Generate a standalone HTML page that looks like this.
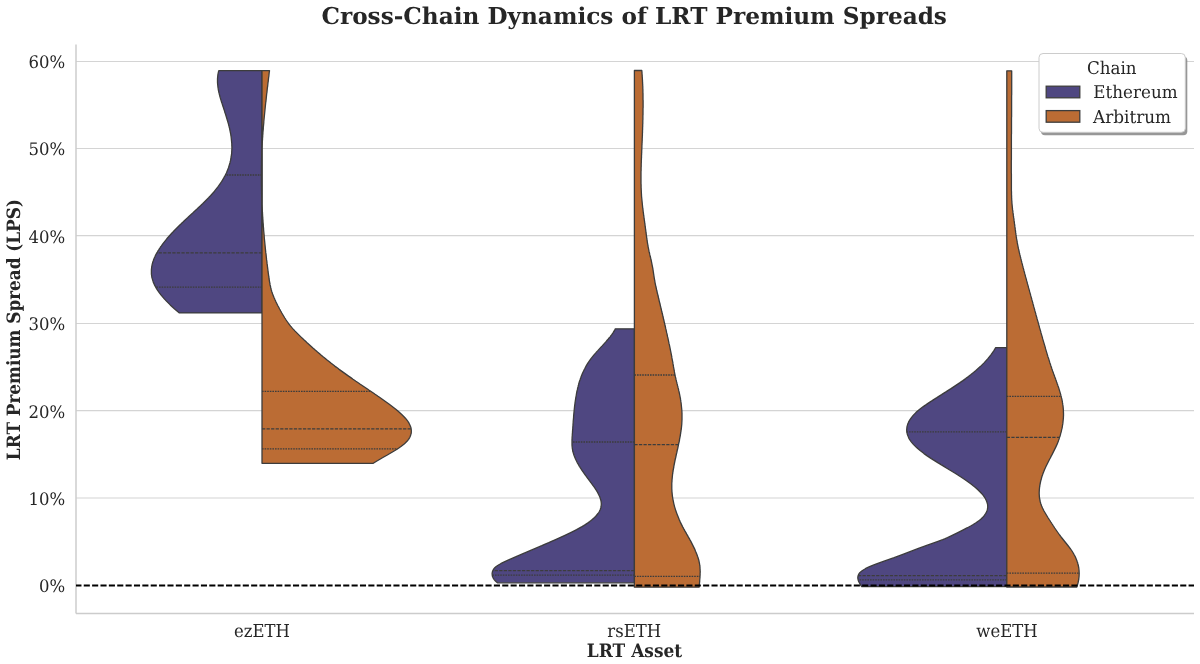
<!DOCTYPE html>
<html><head><meta charset="utf-8"><title>Cross-Chain Dynamics of LRT Premium Spreads</title>
<style>html,body{margin:0;padding:0;background:#fff;} svg{display:block;} text{font-family:'DejaVu Serif', 'Liberation Serif', serif;fill:#262626;text-rendering:geometricPrecision;}</style>
</head><body>
<svg width="1200" height="664" viewBox="0 0 1200 664">
<rect width="1200" height="664" fill="#ffffff"/>
<line x1="76.0" y1="498" x2="1194.0" y2="498" stroke="#d4d4d4" stroke-width="1.15"/>
<line x1="76.0" y1="410.6" x2="1194.0" y2="410.6" stroke="#d4d4d4" stroke-width="1.15"/>
<line x1="76.0" y1="323.5" x2="1194.0" y2="323.5" stroke="#d4d4d4" stroke-width="1.15"/>
<line x1="76.0" y1="235.6" x2="1194.0" y2="235.6" stroke="#d4d4d4" stroke-width="1.15"/>
<line x1="76.0" y1="148.5" x2="1194.0" y2="148.5" stroke="#d4d4d4" stroke-width="1.15"/>
<line x1="76.0" y1="61.5" x2="1194.0" y2="61.5" stroke="#d4d4d4" stroke-width="1.15"/>
<line x1="76.0" y1="44.5" x2="76.0" y2="613.5" stroke="#cccccc" stroke-width="1.5"/>
<line x1="76.0" y1="613.5" x2="1194.0" y2="613.5" stroke="#cccccc" stroke-width="1.5"/>
<path d="M262,70.6 L218.8,70.6 L218.5,71.6 L218.3,72.6 L218.1,73.6 L217.9,74.6 L217.8,75.6 L217.7,76.6 L217.6,77.6 L217.5,78.6 L217.5,79.6 L217.5,80.6 L217.5,81.6 L217.5,82.6 L217.6,83.6 L217.7,84.6 L217.8,85.6 L217.9,86.6 L218,87.6 L218.2,88.6 L218.3,89.6 L218.5,90.6 L218.7,91.6 L218.9,92.6 L219.2,93.6 L219.4,94.6 L219.7,95.6 L219.9,96.6 L220.2,97.6 L220.5,98.6 L220.8,99.6 L221.1,100.6 L221.4,101.6 L221.7,102.6 L222.1,103.6 L222.4,104.6 L222.7,105.6 L223,106.6 L223.4,107.6 L223.7,108.6 L224,109.6 L224.4,110.6 L224.7,111.7 L225,112.7 L225.4,113.7 L225.7,114.7 L226,115.7 L226.3,116.7 L226.6,117.7 L226.9,118.7 L227.2,119.7 L227.5,120.7 L227.8,121.7 L228.1,122.7 L228.4,123.7 L228.6,124.7 L228.9,125.7 L229.1,126.7 L229.4,127.7 L229.6,128.7 L229.8,129.7 L230,130.7 L230.2,131.7 L230.4,132.7 L230.6,133.7 L230.8,134.7 L230.9,135.7 L231.1,136.7 L231.2,137.7 L231.3,138.7 L231.4,139.7 L231.5,140.7 L231.6,141.7 L231.7,142.7 L231.8,143.7 L231.8,144.7 L231.8,145.7 L231.9,146.7 L231.9,147.7 L231.9,148.7 L231.8,149.7 L231.8,150.7 L231.7,151.7 L231.7,152.7 L231.6,153.7 L231.5,154.7 L231.3,155.7 L231.2,156.7 L231,157.7 L230.9,158.7 L230.7,159.7 L230.5,160.7 L230.2,161.7 L230,162.7 L229.7,163.7 L229.4,164.7 L229.1,165.7 L228.8,166.7 L228.5,167.7 L228.1,168.7 L227.7,169.7 L227.3,170.7 L226.9,171.7 L226.5,172.7 L226,173.7 L225.5,174.7 L225,175.7 L224.5,176.7 L223.9,177.7 L223.4,178.7 L222.8,179.7 L222.2,180.7 L221.6,181.7 L220.9,182.7 L220.2,183.7 L219.5,184.7 L218.8,185.7 L218.1,186.7 L217.3,187.7 L216.5,188.7 L215.7,189.7 L214.9,190.7 L214.1,191.8 L213.2,192.8 L212.3,193.8 L211.4,194.8 L210.5,195.8 L209.5,196.8 L208.6,197.8 L207.6,198.8 L206.6,199.8 L205.6,200.8 L204.6,201.8 L203.6,202.8 L202.6,203.8 L201.5,204.8 L200.5,205.8 L199.4,206.8 L198.3,207.8 L197.3,208.8 L196.2,209.8 L195.1,210.8 L194,211.8 L193,212.8 L191.9,213.8 L190.8,214.8 L189.7,215.8 L188.6,216.8 L187.6,217.8 L186.5,218.8 L185.4,219.8 L184.3,220.8 L183.3,221.8 L182.2,222.8 L181.2,223.8 L180.1,224.8 L179.1,225.8 L178.1,226.8 L177.1,227.8 L176.1,228.8 L175.1,229.8 L174.1,230.8 L173.2,231.8 L172.2,232.8 L171.3,233.8 L170.4,234.8 L169.5,235.8 L168.6,236.8 L167.7,237.8 L166.8,238.8 L166,239.8 L165.2,240.8 L164.4,241.8 L163.6,242.8 L162.8,243.8 L162.1,244.8 L161.4,245.8 L160.6,246.8 L160,247.8 L159.3,248.8 L158.7,249.8 L158,250.8 L157.5,251.8 L156.9,252.8 L156.3,253.8 L155.8,254.8 L155.3,255.8 L154.9,256.8 L154.4,257.8 L154,258.8 L153.6,259.8 L153.3,260.8 L152.9,261.8 L152.6,262.8 L152.4,263.8 L152.1,264.8 L151.9,265.8 L151.7,266.8 L151.6,267.8 L151.5,268.8 L151.4,269.8 L151.4,270.8 L151.4,271.8 L151.4,272.9 L151.4,273.9 L151.5,274.9 L151.7,275.9 L151.8,276.9 L152,277.9 L152.3,278.9 L152.6,279.9 L152.9,280.9 L153.2,281.9 L153.6,282.9 L154.1,283.9 L154.5,284.9 L155,285.9 L155.6,286.9 L156.1,287.9 L156.7,288.9 L157.3,289.9 L158,290.9 L158.7,291.9 L159.4,292.9 L160.2,293.9 L160.9,294.9 L161.8,295.9 L162.6,296.9 L163.5,297.9 L164.3,298.9 L165.3,299.9 L166.2,300.9 L167.2,301.9 L168.2,302.9 L169.2,303.9 L170.2,304.9 L171.3,305.9 L172.4,306.9 L173.5,307.9 L174.6,308.9 L175.8,309.9 L177,310.9 L178.2,311.9 L179.4,312.9 L262,312.9 Z" fill="#4f4781" stroke="#3c3c3c" stroke-width="1.3" stroke-linejoin="round"/>
<line x1="262" y1="175" x2="225.4" y2="175" stroke="#3c3c3c" stroke-width="1.3" stroke-dasharray="1.6 1"/>
<line x1="262" y1="252.8" x2="156.9" y2="252.8" stroke="#3c3c3c" stroke-width="1.3" stroke-dasharray="3.25 1.3"/>
<line x1="262" y1="287.1" x2="155.7" y2="287.1" stroke="#3c3c3c" stroke-width="1.3" stroke-dasharray="1.6 1"/>
<path d="M262,70.6 L269.5,70.6 L269.4,71.6 L269.2,72.6 L269.1,73.6 L269,74.6 L268.9,75.6 L268.8,76.6 L268.6,77.6 L268.5,78.6 L268.4,79.6 L268.3,80.6 L268.2,81.6 L268,82.6 L267.9,83.6 L267.8,84.6 L267.7,85.6 L267.6,86.6 L267.4,87.6 L267.3,88.6 L267.2,89.6 L267.1,90.6 L267,91.6 L266.9,92.6 L266.7,93.6 L266.6,94.6 L266.5,95.6 L266.4,96.6 L266.3,97.6 L266.2,98.7 L266.1,99.7 L266,100.7 L265.9,101.7 L265.7,102.7 L265.6,103.7 L265.5,104.7 L265.4,105.7 L265.3,106.7 L265.2,107.7 L265.1,108.7 L265,109.7 L264.9,110.7 L264.8,111.7 L264.7,112.7 L264.6,113.7 L264.5,114.7 L264.4,115.7 L264.3,116.7 L264.2,117.7 L264.1,118.7 L264,119.7 L263.9,120.7 L263.8,121.7 L263.8,122.7 L263.7,123.7 L263.6,124.7 L263.5,125.7 L263.4,126.7 L263.3,127.7 L263.3,128.7 L263.2,129.7 L263.1,130.7 L263,131.7 L262.9,132.7 L262.9,133.7 L262.8,134.7 L262.7,135.7 L262.7,136.7 L262.6,137.7 L262.5,138.7 L262.5,139.7 L262.4,140.7 L262.3,141.7 L262.3,142.7 L262.2,143.7 L262.2,144.7 L262.1,145.7 L262.1,146.7 L262,147.7 L262,148.7 L261.9,149.7 L261.9,150.7 L261.8,151.7 L261.8,152.7 L261.8,153.7 L261.7,154.8 L261.7,155.8 L261.7,156.8 L261.6,157.8 L261.6,158.8 L261.6,159.8 L261.5,160.8 L261.5,161.8 L261.5,162.8 L261.5,163.8 L261.5,164.8 L261.4,165.8 L261.4,166.8 L261.4,167.8 L261.4,168.8 L261.4,169.8 L261.4,170.8 L261.4,171.8 L261.4,172.8 L261.4,173.8 L261.4,174.8 L261.4,175.8 L261.4,176.8 L261.4,177.8 L261.4,178.8 L261.4,179.8 L261.4,180.8 L261.4,181.8 L261.4,182.8 L261.4,183.8 L261.4,184.8 L261.4,185.8 L261.5,186.8 L261.5,187.8 L261.5,188.8 L261.5,189.8 L261.6,190.8 L261.6,191.8 L261.6,192.8 L261.6,193.8 L261.7,194.8 L261.7,195.8 L261.7,196.8 L261.8,197.8 L261.8,198.8 L261.8,199.8 L261.9,200.8 L261.9,201.8 L262,202.8 L262,203.8 L262,204.8 L262.1,205.8 L262.1,206.8 L262.2,207.8 L262.2,208.8 L262.3,209.8 L262.3,210.9 L262.4,211.9 L262.5,212.9 L262.5,213.9 L262.6,214.9 L262.6,215.9 L262.7,216.9 L262.8,217.9 L262.8,218.9 L262.9,219.9 L263,220.9 L263,221.9 L263.1,222.9 L263.2,223.9 L263.3,224.9 L263.3,225.9 L263.4,226.9 L263.5,227.9 L263.6,228.9 L263.6,229.9 L263.7,230.9 L263.8,231.9 L263.9,232.9 L264,233.9 L264.1,234.9 L264.2,235.9 L264.2,236.9 L264.3,237.9 L264.4,238.9 L264.5,239.9 L264.6,240.9 L264.7,241.9 L264.8,242.9 L264.9,243.9 L265,244.9 L265.1,245.9 L265.2,246.9 L265.3,247.9 L265.4,248.9 L265.5,249.9 L265.6,250.9 L265.7,251.9 L265.8,252.9 L266,253.9 L266.1,254.9 L266.2,255.9 L266.3,256.9 L266.4,257.9 L266.5,258.9 L266.6,259.9 L266.8,260.9 L266.9,261.9 L267,262.9 L267.1,263.9 L267.3,264.9 L267.4,265.9 L267.5,267 L267.6,268 L267.8,269 L267.9,270 L268,271 L268.1,272 L268.3,273 L268.4,274 L268.5,275 L268.7,276 L268.8,277 L269,278 L269.1,279 L269.3,280 L269.4,281 L269.6,282 L269.8,283 L269.9,284 L270.1,285 L270.4,286 L270.6,287 L270.8,288 L271.1,289 L271.3,290 L271.6,291 L271.9,292 L272.3,293 L272.6,294 L273,295 L273.4,296 L273.8,297 L274.2,298 L274.7,299 L275.1,300 L275.6,301 L276,302 L276.5,303 L277,304 L277.5,305 L278,306 L278.6,307 L279.1,308 L279.6,309 L280.2,310 L280.7,311 L281.3,312 L281.8,313 L282.4,314 L283,315 L283.6,316 L284.2,317 L284.8,318 L285.5,319 L286.1,320 L286.8,321 L287.5,322 L288.3,323.1 L289,324.1 L289.8,325.1 L290.6,326.1 L291.5,327.1 L292.3,328.1 L293.2,329.1 L294.2,330.1 L295.1,331.1 L296.1,332.1 L297.1,333.1 L298.1,334.1 L299.1,335.1 L300.1,336.1 L301.1,337.1 L302.1,338.1 L303.2,339.1 L304.2,340.1 L305.3,341.1 L306.4,342.1 L307.4,343.1 L308.5,344.1 L309.6,345.1 L310.7,346.1 L311.8,347.1 L312.9,348.1 L314.1,349.1 L315.2,350.1 L316.4,351.1 L317.5,352.1 L318.7,353.1 L319.9,354.1 L321,355.1 L322.2,356.1 L323.4,357.1 L324.7,358.1 L325.9,359.1 L327.1,360.1 L328.4,361.1 L329.7,362.1 L330.9,363.1 L332.2,364.1 L333.5,365.1 L334.8,366.1 L336.2,367.1 L337.5,368.1 L338.8,369.1 L340.2,370.1 L341.6,371.1 L343,372.1 L344.4,373.1 L345.8,374.1 L347.2,375.1 L348.6,376.1 L350.1,377.1 L351.5,378.1 L353,379.2 L354.5,380.2 L355.9,381.2 L357.4,382.2 L358.9,383.2 L360.3,384.2 L361.8,385.2 L363.3,386.2 L364.8,387.2 L366.3,388.2 L367.8,389.2 L369.2,390.2 L370.7,391.2 L372.2,392.2 L373.7,393.2 L375.1,394.2 L376.6,395.2 L378,396.2 L379.5,397.2 L380.9,398.2 L382.3,399.2 L383.7,400.2 L385.1,401.2 L386.5,402.2 L387.9,403.2 L389.3,404.2 L390.6,405.2 L391.9,406.2 L393.2,407.2 L394.5,408.2 L395.8,409.2 L397,410.2 L398.2,411.2 L399.3,412.2 L400.4,413.2 L401.5,414.2 L402.5,415.2 L403.5,416.2 L404.5,417.2 L405.4,418.2 L406.2,419.2 L407,420.2 L407.7,421.2 L408.4,422.2 L409,423.2 L409.5,424.2 L410,425.2 L410.4,426.2 L410.8,427.2 L411,428.2 L411.2,429.2 L411.3,430.2 L411.3,431.2 L411.3,432.2 L411.2,433.2 L410.9,434.2 L410.6,435.3 L410.3,436.3 L409.8,437.3 L409.2,438.3 L408.6,439.3 L407.8,440.3 L407,441.3 L406,442.3 L405,443.3 L403.9,444.3 L402.6,445.3 L401.3,446.3 L399.9,447.3 L398.5,448.3 L396.9,449.3 L395.4,450.3 L393.7,451.3 L392,452.3 L390.3,453.3 L388.6,454.3 L386.9,455.3 L385.1,456.3 L383.3,457.3 L381.6,458.3 L379.9,459.3 L378.2,460.3 L376.5,461.3 L374.9,462.3 L373.3,463.3 L262,463.3 Z" fill="#bb6c34" stroke="#3c3c3c" stroke-width="1.3" stroke-linejoin="round"/>
<line x1="262" y1="391.3" x2="370.9" y2="391.3" stroke="#3c3c3c" stroke-width="1.3" stroke-dasharray="1.6 1"/>
<line x1="262" y1="428.9" x2="411.1" y2="428.9" stroke="#3c3c3c" stroke-width="1.3" stroke-dasharray="3.25 1.3"/>
<line x1="262" y1="448.8" x2="397.7" y2="448.8" stroke="#3c3c3c" stroke-width="1.3" stroke-dasharray="1.6 1"/>
<path d="M634.4,328.8 L615.3,328.8 L614.8,329.8 L614.2,330.8 L613.6,331.8 L613,332.8 L612.3,333.8 L611.6,334.8 L610.8,335.8 L610.1,336.8 L609.3,337.8 L608.4,338.8 L607.6,339.8 L606.7,340.8 L605.8,341.9 L604.9,342.9 L604,343.9 L603.1,344.9 L602.2,345.9 L601.2,346.9 L600.3,347.9 L599.4,348.9 L598.5,349.9 L597.6,350.9 L596.6,351.9 L595.8,352.9 L594.9,353.9 L594,354.9 L593.2,355.9 L592.4,356.9 L591.6,357.9 L590.8,358.9 L590.1,359.9 L589.4,360.9 L588.7,361.9 L588,362.9 L587.4,363.9 L586.8,364.9 L586.2,365.9 L585.6,367 L585.1,368 L584.6,369 L584,370 L583.6,371 L583.1,372 L582.6,373 L582.2,374 L581.8,375 L581.4,376 L581,377 L580.7,378 L580.3,379 L580,380 L579.6,381 L579.3,382 L579,383 L578.7,384 L578.5,385 L578.2,386 L578,387 L577.7,388 L577.5,389 L577.3,390 L577,391 L576.8,392 L576.6,393.1 L576.4,394.1 L576.3,395.1 L576.1,396.1 L575.9,397.1 L575.7,398.1 L575.6,399.1 L575.4,400.1 L575.3,401.1 L575.1,402.1 L575,403.1 L574.9,404.1 L574.7,405.1 L574.6,406.1 L574.5,407.1 L574.4,408.1 L574.3,409.1 L574.2,410.1 L574.1,411.1 L574,412.1 L573.9,413.1 L573.8,414.1 L573.7,415.1 L573.6,416.1 L573.6,417.1 L573.5,418.2 L573.4,419.2 L573.3,420.2 L573.2,421.2 L573.2,422.2 L573.1,423.2 L573,424.2 L573,425.2 L572.9,426.2 L572.8,427.2 L572.8,428.2 L572.7,429.2 L572.6,430.2 L572.5,431.2 L572.5,432.2 L572.4,433.2 L572.3,434.2 L572.3,435.2 L572.2,436.2 L572.1,437.2 L572.1,438.2 L572,439.2 L572,440.2 L572,441.2 L572,442.2 L572,443.3 L572,444.3 L572,445.3 L572.1,446.3 L572.2,447.3 L572.3,448.3 L572.5,449.3 L572.6,450.3 L572.8,451.3 L573.1,452.3 L573.4,453.3 L573.7,454.3 L574,455.3 L574.4,456.3 L574.8,457.3 L575.2,458.3 L575.6,459.3 L576.1,460.3 L576.6,461.3 L577.1,462.3 L577.7,463.3 L578.3,464.3 L578.8,465.3 L579.4,466.3 L580.1,467.3 L580.7,468.3 L581.4,469.4 L582,470.4 L582.7,471.4 L583.4,472.4 L584.1,473.4 L584.8,474.4 L585.5,475.4 L586.3,476.4 L587,477.4 L587.7,478.4 L588.5,479.4 L589.2,480.4 L590,481.4 L590.7,482.4 L591.5,483.4 L592.2,484.4 L592.9,485.4 L593.7,486.4 L594.4,487.4 L595.1,488.4 L595.7,489.4 L596.4,490.4 L597,491.4 L597.6,492.4 L598.1,493.4 L598.6,494.5 L599.1,495.5 L599.6,496.5 L600,497.5 L600.3,498.5 L600.6,499.5 L600.9,500.5 L601.1,501.5 L601.2,502.5 L601.3,503.5 L601.3,504.5 L601.2,505.5 L601.1,506.5 L600.9,507.5 L600.6,508.5 L600.3,509.5 L599.8,510.5 L599.3,511.5 L598.7,512.5 L598,513.5 L597.2,514.5 L596.4,515.5 L595.5,516.5 L594.5,517.5 L593.4,518.5 L592.2,519.6 L591,520.6 L589.7,521.6 L588.3,522.6 L586.8,523.6 L585.3,524.6 L583.7,525.6 L582,526.6 L580.2,527.6 L578.4,528.6 L576.6,529.6 L574.7,530.6 L572.7,531.6 L570.7,532.6 L568.6,533.6 L566.5,534.6 L564.4,535.6 L562.2,536.6 L560,537.6 L557.8,538.6 L555.6,539.6 L553.3,540.6 L551,541.6 L548.8,542.6 L546.4,543.6 L544.1,544.6 L541.8,545.7 L539.5,546.7 L537.1,547.7 L534.8,548.7 L532.4,549.7 L530.1,550.7 L527.7,551.7 L525.4,552.7 L523,553.7 L520.7,554.7 L518.4,555.7 L516.1,556.7 L513.8,557.7 L511.5,558.7 L509.2,559.7 L507,560.7 L504.8,561.7 L502.7,562.7 L500.7,563.7 L498.9,564.7 L497.3,565.7 L495.9,566.7 L494.8,567.7 L494,568.7 L493.3,569.7 L492.8,570.8 L492.4,571.8 L492.2,572.8 L492.1,573.8 L492.2,574.8 L492.3,575.8 L492.6,576.8 L493.1,577.8 L493.7,578.8 L494.4,579.8 L495.2,580.8 L496.2,581.8 L497.4,582.8 L634.4,582.8 Z" fill="#4f4781" stroke="#3c3c3c" stroke-width="1.3" stroke-linejoin="round"/>
<line x1="634.4" y1="442" x2="572" y2="442" stroke="#3c3c3c" stroke-width="1.3" stroke-dasharray="1.6 1"/>
<line x1="634.4" y1="570.6" x2="492.9" y2="570.6" stroke="#3c3c3c" stroke-width="1.3" stroke-dasharray="3.25 1.3"/>
<line x1="634.4" y1="575.2" x2="492.2" y2="575.2" stroke="#3c3c3c" stroke-width="1.3" stroke-dasharray="1.6 1"/>
<path d="M634.4,70.5 L641.8,70.5 L641.9,71.5 L642,72.5 L642,73.5 L642.1,74.5 L642.2,75.5 L642.2,76.5 L642.3,77.5 L642.4,78.5 L642.4,79.5 L642.5,80.5 L642.5,81.5 L642.6,82.5 L642.6,83.5 L642.7,84.5 L642.7,85.5 L642.8,86.5 L642.8,87.5 L642.8,88.5 L642.9,89.5 L642.9,90.5 L642.9,91.5 L642.9,92.5 L643,93.5 L643,94.5 L643,95.5 L643,96.5 L643,97.5 L643,98.5 L643,99.5 L643.1,100.5 L643.1,101.5 L643.1,102.5 L643.1,103.5 L643.1,104.5 L643.1,105.5 L643.1,106.5 L643.1,107.6 L643,108.6 L643,109.6 L643,110.6 L643,111.6 L643,112.6 L643,113.6 L643,114.6 L642.9,115.6 L642.9,116.6 L642.9,117.6 L642.9,118.6 L642.9,119.6 L642.8,120.6 L642.8,121.6 L642.8,122.6 L642.8,123.6 L642.7,124.6 L642.7,125.6 L642.7,126.6 L642.6,127.6 L642.6,128.6 L642.6,129.6 L642.5,130.6 L642.5,131.6 L642.5,132.6 L642.4,133.6 L642.4,134.6 L642.4,135.6 L642.3,136.6 L642.3,137.6 L642.2,138.6 L642.2,139.6 L642.2,140.6 L642.1,141.6 L642.1,142.6 L642,143.6 L642,144.6 L641.9,145.6 L641.9,146.6 L641.9,147.6 L641.8,148.6 L641.8,149.6 L641.7,150.6 L641.7,151.6 L641.7,152.6 L641.6,153.6 L641.6,154.6 L641.5,155.6 L641.5,156.6 L641.5,157.6 L641.4,158.6 L641.4,159.6 L641.3,160.6 L641.3,161.6 L641.3,162.6 L641.2,163.6 L641.2,164.6 L641.2,165.6 L641.2,166.6 L641.1,167.6 L641.1,168.6 L641.1,169.6 L641.1,170.6 L641,171.6 L641,172.6 L641,173.6 L641,174.6 L641,175.6 L641,176.6 L641,177.6 L641,178.6 L641,179.6 L641,180.6 L641,181.7 L641,182.7 L641,183.7 L641.1,184.7 L641.1,185.7 L641.1,186.7 L641.1,187.7 L641.2,188.7 L641.2,189.7 L641.3,190.7 L641.3,191.7 L641.4,192.7 L641.4,193.7 L641.5,194.7 L641.5,195.7 L641.6,196.7 L641.7,197.7 L641.8,198.7 L641.9,199.7 L642,200.7 L642.1,201.7 L642.2,202.7 L642.3,203.7 L642.4,204.7 L642.5,205.7 L642.6,206.7 L642.7,207.7 L642.8,208.7 L643,209.7 L643.1,210.7 L643.2,211.7 L643.3,212.7 L643.5,213.7 L643.6,214.7 L643.7,215.7 L643.9,216.7 L644,217.7 L644.1,218.7 L644.3,219.7 L644.4,220.7 L644.6,221.7 L644.7,222.7 L644.8,223.7 L645,224.7 L645.1,225.7 L645.2,226.7 L645.4,227.7 L645.5,228.7 L645.6,229.7 L645.8,230.7 L645.9,231.7 L646,232.7 L646.2,233.7 L646.3,234.7 L646.4,235.7 L646.6,236.7 L646.7,237.7 L646.8,238.7 L647,239.7 L647.1,240.7 L647.3,241.7 L647.4,242.7 L647.6,243.7 L647.8,244.7 L647.9,245.7 L648.1,246.7 L648.3,247.7 L648.5,248.7 L648.7,249.7 L648.9,250.7 L649.1,251.7 L649.4,252.7 L649.6,253.7 L649.8,254.7 L650.1,255.8 L650.3,256.8 L650.6,257.8 L650.8,258.8 L651,259.8 L651.3,260.8 L651.5,261.8 L651.7,262.8 L651.9,263.8 L652.1,264.8 L652.3,265.8 L652.5,266.8 L652.7,267.8 L652.9,268.8 L653,269.8 L653.2,270.8 L653.3,271.8 L653.5,272.8 L653.6,273.8 L653.8,274.8 L653.9,275.8 L654.1,276.8 L654.2,277.8 L654.4,278.8 L654.6,279.8 L654.8,280.8 L654.9,281.8 L655.1,282.8 L655.3,283.8 L655.5,284.8 L655.7,285.8 L655.9,286.8 L656.2,287.8 L656.4,288.8 L656.6,289.8 L656.8,290.8 L657.1,291.8 L657.3,292.8 L657.5,293.8 L657.8,294.8 L658,295.8 L658.3,296.8 L658.5,297.8 L658.7,298.8 L659,299.8 L659.2,300.8 L659.4,301.8 L659.7,302.8 L659.9,303.8 L660.2,304.8 L660.4,305.8 L660.6,306.8 L660.9,307.8 L661.1,308.8 L661.4,309.8 L661.6,310.8 L661.8,311.8 L662.1,312.8 L662.3,313.8 L662.6,314.8 L662.8,315.8 L663,316.8 L663.3,317.8 L663.5,318.8 L663.7,319.8 L664,320.8 L664.2,321.8 L664.4,322.8 L664.7,323.8 L664.9,324.8 L665.1,325.8 L665.4,326.8 L665.6,327.8 L665.8,328.9 L666.1,329.9 L666.3,330.9 L666.5,331.9 L666.7,332.9 L667,333.9 L667.2,334.9 L667.4,335.9 L667.6,336.9 L667.9,337.9 L668.1,338.9 L668.3,339.9 L668.5,340.9 L668.7,341.9 L668.9,342.9 L669.1,343.9 L669.4,344.9 L669.6,345.9 L669.8,346.9 L670,347.9 L670.2,348.9 L670.4,349.9 L670.6,350.9 L670.8,351.9 L671,352.9 L671.2,353.9 L671.4,354.9 L671.6,355.9 L671.8,356.9 L671.9,357.9 L672.1,358.9 L672.3,359.9 L672.5,360.9 L672.7,361.9 L672.9,362.9 L673,363.9 L673.2,364.9 L673.4,365.9 L673.5,366.9 L673.7,367.9 L673.9,368.9 L674.1,369.9 L674.3,370.9 L674.4,371.9 L674.6,372.9 L674.8,373.9 L675,374.9 L675.2,375.9 L675.4,376.9 L675.7,377.9 L675.9,378.9 L676.1,379.9 L676.4,380.9 L676.6,381.9 L676.9,382.9 L677.1,383.9 L677.4,384.9 L677.6,385.9 L677.9,386.9 L678.1,387.9 L678.4,388.9 L678.6,389.9 L678.8,390.9 L679.1,391.9 L679.3,392.9 L679.5,393.9 L679.7,394.9 L679.9,395.9 L680.1,396.9 L680.3,397.9 L680.5,398.9 L680.6,399.9 L680.8,400.9 L680.9,401.9 L681.1,403 L681.2,404 L681.3,405 L681.4,406 L681.5,407 L681.6,408 L681.7,409 L681.8,410 L681.9,411 L681.9,412 L682,413 L682,414 L682,415 L682,416 L682,417 L682,418 L682,419 L682,420 L681.9,421 L681.9,422 L681.8,423 L681.8,424 L681.7,425 L681.6,426 L681.5,427 L681.4,428 L681.3,429 L681.1,430 L681,431 L680.8,432 L680.7,433 L680.5,434 L680.4,435 L680.2,436 L680,437 L679.8,438 L679.6,439 L679.5,440 L679.3,441 L679.1,442 L678.8,443 L678.6,444 L678.4,445 L678.2,446 L678,447 L677.8,448 L677.6,449 L677.3,450 L677.1,451 L676.9,452 L676.7,453 L676.4,454 L676.2,455 L676,456 L675.8,457 L675.6,458 L675.3,459 L675.1,460 L674.9,461 L674.7,462 L674.5,463 L674.3,464 L674.1,465 L673.9,466 L673.8,467 L673.6,468 L673.4,469 L673.2,470 L673.1,471 L672.9,472 L672.8,473 L672.6,474 L672.5,475 L672.4,476 L672.3,477.1 L672.2,478.1 L672.1,479.1 L672,480.1 L672,481.1 L671.9,482.1 L671.8,483.1 L671.8,484.1 L671.8,485.1 L671.8,486.1 L671.8,487.1 L671.8,488.1 L671.8,489.1 L671.9,490.1 L671.9,491.1 L672,492.1 L672.1,493.1 L672.2,494.1 L672.3,495.1 L672.4,496.1 L672.6,497.1 L672.7,498.1 L672.9,499.1 L673.1,500.1 L673.3,501.1 L673.5,502.1 L673.7,503.1 L673.9,504.1 L674.2,505.1 L674.4,506.1 L674.7,507.1 L675,508.1 L675.3,509.1 L675.6,510.1 L675.9,511.1 L676.3,512.1 L676.6,513.1 L677,514.1 L677.4,515.1 L677.8,516.1 L678.2,517.1 L678.6,518.1 L679,519.1 L679.4,520.1 L679.9,521.1 L680.3,522.1 L680.8,523.1 L681.3,524.1 L681.8,525.1 L682.3,526.1 L682.8,527.1 L683.4,528.1 L683.9,529.1 L684.5,530.1 L685,531.1 L685.6,532.1 L686.2,533.1 L686.7,534.1 L687.3,535.1 L687.9,536.1 L688.4,537.1 L689,538.1 L689.6,539.1 L690.1,540.1 L690.7,541.1 L691.2,542.1 L691.7,543.1 L692.2,544.1 L692.7,545.1 L693.2,546.1 L693.7,547.1 L694.2,548.1 L694.7,549.1 L695.1,550.1 L695.5,551.2 L696,552.2 L696.4,553.2 L696.8,554.2 L697.2,555.2 L697.5,556.2 L697.9,557.2 L698.2,558.2 L698.5,559.2 L698.8,560.2 L699,561.2 L699.2,562.2 L699.4,563.2 L699.6,564.2 L699.7,565.2 L699.9,566.2 L700,567.2 L700,568.2 L700.1,569.2 L700.1,570.2 L700.2,571.2 L700.2,572.2 L700.1,573.2 L700.1,574.2 L700.1,575.2 L700,576.2 L700,577.2 L699.9,578.2 L699.8,579.2 L699.7,580.2 L699.7,581.2 L699.6,582.2 L699.5,583.2 L699.4,584.2 L699.3,585.2 L699.2,586.2 L699.1,587.2 L634.4,587.2 Z" fill="#bb6c34" stroke="#3c3c3c" stroke-width="1.3" stroke-linejoin="round"/>
<line x1="634.4" y1="375" x2="675" y2="375" stroke="#3c3c3c" stroke-width="1.3" stroke-dasharray="1.6 1"/>
<line x1="634.4" y1="444.6" x2="678.5" y2="444.6" stroke="#3c3c3c" stroke-width="1.3" stroke-dasharray="3.25 1.3"/>
<line x1="634.4" y1="576.3" x2="700" y2="576.3" stroke="#3c3c3c" stroke-width="1.3" stroke-dasharray="1.6 1"/>
<path d="M1006.8,347.6 L995.7,347.6 L995.1,348.6 L994.5,349.6 L993.9,350.6 L993.2,351.6 L992.5,352.6 L991.8,353.6 L991.1,354.6 L990.3,355.6 L989.5,356.6 L988.7,357.6 L987.9,358.6 L987,359.6 L986.1,360.6 L985.2,361.6 L984.3,362.6 L983.3,363.6 L982.3,364.6 L981.3,365.6 L980.3,366.6 L979.2,367.6 L978.1,368.6 L977,369.6 L975.9,370.6 L974.7,371.6 L973.5,372.6 L972.2,373.6 L971,374.6 L969.7,375.6 L968.4,376.6 L967,377.6 L965.7,378.6 L964.3,379.6 L962.9,380.6 L961.4,381.6 L960,382.6 L958.5,383.6 L957,384.6 L955.5,385.6 L954,386.6 L952.5,387.6 L951,388.6 L949.4,389.6 L947.8,390.6 L946.3,391.6 L944.7,392.6 L943.1,393.6 L941.6,394.6 L940,395.6 L938.4,396.6 L936.9,397.6 L935.3,398.6 L933.7,399.6 L932.2,400.6 L930.6,401.6 L929.1,402.6 L927.6,403.6 L926.2,404.6 L924.7,405.6 L923.3,406.6 L922,407.6 L920.7,408.6 L919.4,409.6 L918.2,410.6 L917,411.6 L915.9,412.6 L914.9,413.6 L913.9,414.6 L913,415.6 L912.2,416.6 L911.4,417.6 L910.7,418.6 L910,419.6 L909.4,420.6 L908.8,421.6 L908.4,422.6 L907.9,423.6 L907.6,424.6 L907.3,425.6 L907,426.6 L906.9,427.6 L906.8,428.6 L906.7,429.6 L906.7,430.6 L906.8,431.6 L906.9,432.6 L907.2,433.6 L907.4,434.6 L907.8,435.6 L908.2,436.6 L908.6,437.6 L909.1,438.6 L909.7,439.6 L910.4,440.6 L911.1,441.6 L911.9,442.6 L912.7,443.6 L913.6,444.6 L914.6,445.6 L915.6,446.6 L916.6,447.6 L917.7,448.6 L918.9,449.6 L920.1,450.6 L921.4,451.6 L922.7,452.6 L924,453.6 L925.4,454.6 L926.8,455.6 L928.3,456.6 L929.8,457.6 L931.3,458.6 L932.9,459.6 L934.5,460.6 L936.1,461.6 L937.7,462.6 L939.4,463.6 L941,464.6 L942.7,465.6 L944.3,466.6 L946,467.7 L947.7,468.7 L949.3,469.7 L951,470.7 L952.6,471.7 L954.3,472.7 L955.9,473.7 L957.5,474.7 L959,475.7 L960.6,476.7 L962.1,477.7 L963.6,478.7 L965.1,479.7 L966.5,480.7 L967.9,481.7 L969.3,482.7 L970.7,483.7 L972,484.7 L973.2,485.7 L974.5,486.7 L975.7,487.7 L976.8,488.7 L977.9,489.7 L978.9,490.7 L979.9,491.7 L980.9,492.7 L981.8,493.7 L982.6,494.7 L983.4,495.7 L984.1,496.7 L984.8,497.7 L985.4,498.7 L985.9,499.7 L986.4,500.7 L986.8,501.7 L987.1,502.7 L987.4,503.7 L987.6,504.7 L987.7,505.7 L987.7,506.7 L987.7,507.7 L987.5,508.7 L987.3,509.7 L987,510.7 L986.6,511.7 L986.2,512.7 L985.6,513.7 L984.9,514.7 L984.2,515.7 L983.3,516.7 L982.3,517.7 L981.3,518.7 L980.1,519.7 L978.8,520.7 L977.4,521.7 L976,522.7 L974.4,523.7 L972.8,524.7 L971.1,525.7 L969.3,526.7 L967.5,527.7 L965.6,528.7 L963.7,529.7 L961.8,530.7 L959.8,531.7 L957.8,532.7 L955.8,533.7 L953.7,534.7 L951.7,535.7 L949.6,536.7 L947.5,537.7 L945.2,538.7 L942.7,539.7 L940,540.7 L937.3,541.7 L934.5,542.7 L931.7,543.7 L928.8,544.7 L926,545.7 L923.3,546.7 L920.5,547.7 L917.8,548.7 L915.2,549.7 L912.6,550.7 L910,551.7 L907.4,552.7 L904.8,553.7 L902.2,554.7 L899.5,555.7 L896.8,556.7 L894.1,557.7 L891.2,558.7 L888.4,559.7 L885.5,560.7 L882.7,561.7 L879.9,562.7 L877.2,563.7 L874.5,564.7 L872,565.7 L869.6,566.7 L867.4,567.7 L865.4,568.7 L863.7,569.7 L862.1,570.7 L860.9,571.7 L859.8,572.7 L859.1,573.7 L858.5,574.7 L858.1,575.7 L857.9,576.7 L857.8,577.7 L857.9,578.7 L858.1,579.7 L858.4,580.7 L858.8,581.7 L859.3,582.7 L859.9,583.7 L860.4,584.7 L861,585.7 L861.7,586.7 L1006.8,586.7 Z" fill="#4f4781" stroke="#3c3c3c" stroke-width="1.3" stroke-linejoin="round"/>
<line x1="1006.8" y1="431.9" x2="906.8" y2="431.9" stroke="#3c3c3c" stroke-width="1.3" stroke-dasharray="1.6 1"/>
<line x1="1006.8" y1="575.7" x2="858.1" y2="575.7" stroke="#3c3c3c" stroke-width="1.3" stroke-dasharray="3.25 1.3"/>
<line x1="1006.8" y1="579.8" x2="858.1" y2="579.8" stroke="#3c3c3c" stroke-width="1.3" stroke-dasharray="1.6 1"/>
<path d="M1006.8,70.8 L1011.7,70.8 L1011.7,71.8 L1011.7,72.8 L1011.7,73.8 L1011.7,74.8 L1011.7,75.8 L1011.7,76.8 L1011.7,77.8 L1011.7,78.8 L1011.7,79.8 L1011.7,80.8 L1011.7,81.8 L1011.7,82.8 L1011.7,83.8 L1011.7,84.8 L1011.7,85.8 L1011.7,86.8 L1011.7,87.8 L1011.7,88.8 L1011.7,89.8 L1011.7,90.8 L1011.7,91.8 L1011.7,92.8 L1011.7,93.8 L1011.7,94.8 L1011.6,95.8 L1011.6,96.8 L1011.6,97.8 L1011.6,98.8 L1011.6,99.8 L1011.6,100.8 L1011.6,101.8 L1011.6,102.8 L1011.6,103.8 L1011.6,104.8 L1011.6,105.8 L1011.6,106.8 L1011.6,107.8 L1011.6,108.8 L1011.6,109.8 L1011.6,110.8 L1011.6,111.8 L1011.6,112.8 L1011.6,113.8 L1011.6,114.8 L1011.6,115.8 L1011.6,116.8 L1011.5,117.8 L1011.5,118.8 L1011.5,119.8 L1011.5,120.8 L1011.5,121.8 L1011.5,122.8 L1011.5,123.8 L1011.5,124.8 L1011.5,125.8 L1011.5,126.8 L1011.5,127.8 L1011.5,128.8 L1011.5,129.8 L1011.5,130.8 L1011.5,131.8 L1011.5,132.8 L1011.5,133.8 L1011.4,134.8 L1011.4,135.8 L1011.4,136.8 L1011.4,137.8 L1011.4,138.8 L1011.4,139.8 L1011.4,140.8 L1011.4,141.8 L1011.4,142.8 L1011.4,143.8 L1011.4,144.8 L1011.4,145.8 L1011.4,146.8 L1011.4,147.8 L1011.4,148.8 L1011.4,149.8 L1011.4,150.8 L1011.4,151.8 L1011.4,152.8 L1011.4,153.8 L1011.4,154.8 L1011.4,155.8 L1011.4,156.8 L1011.4,157.8 L1011.4,158.8 L1011.4,159.8 L1011.3,160.8 L1011.3,161.8 L1011.3,162.8 L1011.3,163.8 L1011.3,164.8 L1011.3,165.8 L1011.3,166.8 L1011.3,167.8 L1011.3,168.8 L1011.3,169.8 L1011.3,170.8 L1011.3,171.8 L1011.3,172.8 L1011.4,173.8 L1011.4,174.8 L1011.4,175.8 L1011.4,176.8 L1011.4,177.8 L1011.4,178.8 L1011.4,179.8 L1011.4,180.8 L1011.4,181.8 L1011.4,182.8 L1011.4,183.8 L1011.4,184.8 L1011.4,185.8 L1011.4,186.8 L1011.4,187.8 L1011.4,188.8 L1011.4,189.8 L1011.4,190.8 L1011.5,191.8 L1011.5,192.8 L1011.5,193.8 L1011.5,194.8 L1011.6,195.8 L1011.6,196.8 L1011.6,197.8 L1011.7,198.8 L1011.7,199.9 L1011.8,200.9 L1011.9,201.9 L1011.9,202.9 L1012,203.9 L1012.1,204.9 L1012.2,205.9 L1012.3,206.9 L1012.4,207.9 L1012.5,208.9 L1012.6,209.9 L1012.8,210.9 L1012.9,211.9 L1013,212.9 L1013.2,213.9 L1013.3,214.9 L1013.4,215.9 L1013.6,216.9 L1013.7,217.9 L1013.9,218.9 L1014,219.9 L1014.1,220.9 L1014.3,221.9 L1014.4,222.9 L1014.5,223.9 L1014.7,224.9 L1014.8,225.9 L1014.9,226.9 L1015.1,227.9 L1015.2,228.9 L1015.3,229.9 L1015.5,230.9 L1015.6,231.9 L1015.7,232.9 L1015.9,233.9 L1016,234.9 L1016.2,235.9 L1016.3,236.9 L1016.5,237.9 L1016.6,238.9 L1016.8,239.9 L1017,240.9 L1017.2,241.9 L1017.3,242.9 L1017.5,243.9 L1017.7,244.9 L1017.9,245.9 L1018.1,246.9 L1018.3,247.9 L1018.5,248.9 L1018.8,249.9 L1019,250.9 L1019.2,251.9 L1019.4,252.9 L1019.7,253.9 L1019.9,254.9 L1020.2,255.9 L1020.4,256.9 L1020.7,257.9 L1020.9,258.9 L1021.2,259.9 L1021.4,260.9 L1021.7,261.9 L1021.9,262.9 L1022.2,263.9 L1022.5,264.9 L1022.7,265.9 L1023,266.9 L1023.2,267.9 L1023.5,268.9 L1023.8,269.9 L1024,270.9 L1024.3,271.9 L1024.6,272.9 L1024.8,273.9 L1025.1,274.9 L1025.4,275.9 L1025.6,276.9 L1025.9,277.9 L1026.2,278.9 L1026.5,279.9 L1026.7,280.9 L1027,281.9 L1027.3,282.9 L1027.5,283.9 L1027.8,284.9 L1028.1,285.9 L1028.4,286.9 L1028.6,287.9 L1028.9,288.9 L1029.2,289.9 L1029.5,290.9 L1029.7,291.9 L1030,292.9 L1030.3,293.9 L1030.6,294.9 L1030.8,295.9 L1031.1,296.9 L1031.4,297.9 L1031.7,298.9 L1031.9,299.9 L1032.2,300.9 L1032.5,301.9 L1032.8,302.9 L1033,303.9 L1033.3,304.9 L1033.6,305.9 L1033.8,306.9 L1034.1,307.9 L1034.4,308.9 L1034.7,309.9 L1034.9,310.9 L1035.2,311.9 L1035.5,312.9 L1035.8,313.9 L1036,314.9 L1036.3,315.9 L1036.6,316.9 L1036.9,317.9 L1037.1,318.9 L1037.4,319.9 L1037.7,320.9 L1038,321.9 L1038.3,322.9 L1038.5,323.9 L1038.8,324.9 L1039.1,325.9 L1039.4,326.9 L1039.6,327.9 L1039.9,328.9 L1040.2,329.9 L1040.5,330.9 L1040.8,331.9 L1041,332.9 L1041.3,333.9 L1041.6,334.9 L1041.9,335.9 L1042.2,336.9 L1042.5,337.9 L1042.7,338.9 L1043,339.9 L1043.3,340.9 L1043.6,341.9 L1043.9,342.9 L1044.2,343.9 L1044.5,344.9 L1044.8,345.9 L1045.1,346.9 L1045.4,347.9 L1045.6,348.9 L1045.9,349.9 L1046.2,350.9 L1046.5,351.9 L1046.8,352.9 L1047.1,353.9 L1047.4,354.9 L1047.7,355.9 L1048,356.9 L1048.4,357.9 L1048.7,358.9 L1049,359.9 L1049.3,360.9 L1049.6,361.9 L1049.9,362.9 L1050.3,363.9 L1050.6,364.9 L1050.9,365.9 L1051.3,366.9 L1051.6,367.9 L1051.9,368.9 L1052.3,369.9 L1052.6,370.9 L1053,371.9 L1053.4,372.9 L1053.7,373.9 L1054.1,374.9 L1054.5,375.9 L1054.8,376.9 L1055.2,377.9 L1055.6,378.9 L1055.9,379.9 L1056.3,380.9 L1056.6,381.9 L1057,382.9 L1057.3,383.9 L1057.7,384.9 L1058,385.9 L1058.4,386.9 L1058.7,387.9 L1059,388.9 L1059.3,389.9 L1059.6,390.9 L1059.9,391.9 L1060.2,392.9 L1060.5,393.9 L1060.8,394.9 L1061,395.9 L1061.3,396.9 L1061.5,397.9 L1061.8,398.9 L1062,399.9 L1062.2,400.9 L1062.4,401.9 L1062.5,402.9 L1062.7,403.9 L1062.8,404.9 L1063,405.9 L1063.1,406.9 L1063.2,407.9 L1063.3,408.9 L1063.4,409.9 L1063.4,410.9 L1063.4,411.9 L1063.5,412.9 L1063.5,413.9 L1063.5,414.9 L1063.5,415.9 L1063.4,416.9 L1063.4,417.9 L1063.3,418.9 L1063.2,419.9 L1063.1,420.9 L1063,421.9 L1062.9,422.9 L1062.8,423.9 L1062.6,424.9 L1062.4,425.9 L1062.3,426.9 L1062.1,427.9 L1061.9,428.9 L1061.6,429.9 L1061.4,430.9 L1061.2,431.9 L1060.9,432.9 L1060.6,433.9 L1060.4,434.9 L1060.1,435.9 L1059.7,436.9 L1059.4,437.9 L1059.1,438.9 L1058.7,439.9 L1058.4,440.9 L1058,441.9 L1057.6,442.9 L1057.2,443.9 L1056.8,444.9 L1056.3,445.9 L1055.9,446.9 L1055.4,447.9 L1054.9,448.9 L1054.4,449.9 L1053.9,450.9 L1053.4,451.9 L1052.9,452.9 L1052.4,453.9 L1051.9,454.9 L1051.3,455.9 L1050.8,456.9 L1050.3,458 L1049.7,459 L1049.2,460 L1048.7,461 L1048.2,462 L1047.7,463 L1047.2,464 L1046.7,465 L1046.2,466 L1045.7,467 L1045.3,468 L1044.8,469 L1044.4,470 L1044,471 L1043.6,472 L1043.2,473 L1042.8,474 L1042.5,475 L1042.1,476 L1041.8,477 L1041.5,478 L1041.3,479 L1041,480 L1040.7,481 L1040.5,482 L1040.3,483 L1040.1,484 L1039.9,485 L1039.8,486 L1039.6,487 L1039.5,488 L1039.4,489 L1039.3,490 L1039.3,491 L1039.2,492 L1039.2,493 L1039.2,494 L1039.3,495 L1039.3,496 L1039.4,497 L1039.5,498 L1039.7,499 L1039.9,500 L1040.1,501 L1040.3,502 L1040.6,503 L1040.9,504 L1041.3,505 L1041.6,506 L1042.1,507 L1042.5,508 L1043,509 L1043.5,510 L1044,511 L1044.6,512 L1045.2,513 L1045.8,514 L1046.4,515 L1047,516 L1047.6,517 L1048.2,518 L1048.9,519 L1049.5,520 L1050.2,521 L1050.8,522 L1051.5,523 L1052.1,524 L1052.8,525 L1053.4,526 L1054.1,527 L1054.7,528 L1055.4,529 L1056.1,530 L1056.8,531 L1057.5,532 L1058.2,533 L1058.9,534 L1059.6,535 L1060.4,536 L1061.1,537 L1061.9,538 L1062.7,539 L1063.5,540 L1064.3,541 L1065.1,542 L1065.9,543 L1066.7,544 L1067.5,545 L1068.3,546 L1069.1,547 L1069.8,548 L1070.6,549 L1071.3,550 L1072,551 L1072.6,552 L1073.2,553 L1073.8,554 L1074.3,555 L1074.9,556 L1075.4,557 L1075.8,558 L1076.2,559 L1076.6,560 L1077,561 L1077.3,562 L1077.7,563 L1077.9,564 L1078.2,565 L1078.4,566 L1078.6,567 L1078.8,568 L1078.9,569 L1079,570 L1079.1,571 L1079.1,572 L1079.2,573 L1079.2,574 L1079.1,575 L1079.1,576 L1079,577 L1078.9,578 L1078.8,579 L1078.6,580 L1078.4,581 L1078.2,582 L1078,583 L1077.7,584 L1077.4,585 L1077.1,586 L1076.8,587 L1006.8,587 Z" fill="#bb6c34" stroke="#3c3c3c" stroke-width="1.3" stroke-linejoin="round"/>
<line x1="1006.8" y1="396.3" x2="1061.1" y2="396.3" stroke="#3c3c3c" stroke-width="1.3" stroke-dasharray="1.6 1"/>
<line x1="1006.8" y1="437.3" x2="1059.6" y2="437.3" stroke="#3c3c3c" stroke-width="1.3" stroke-dasharray="3.25 1.3"/>
<line x1="1006.8" y1="573.2" x2="1079.2" y2="573.2" stroke="#3c3c3c" stroke-width="1.3" stroke-dasharray="1.6 1"/>
<line x1="76.0" y1="585.5" x2="1194.0" y2="585.5" stroke="#000" stroke-width="1.9" stroke-dasharray="6.1 2.27" stroke-dashoffset="0.63"/>
<text transform="translate(65.3,592.4) scale(1,1.05)" font-size="16.5" text-anchor="end">0%</text>
<text transform="translate(65.3,504.9) scale(1,1.05)" font-size="16.5" text-anchor="end">10%</text>
<text transform="translate(65.3,417.8) scale(1,1.05)" font-size="16.5" text-anchor="end">20%</text>
<text transform="translate(65.3,330.4) scale(1,1.05)" font-size="16.5" text-anchor="end">30%</text>
<text transform="translate(65.3,243.3) scale(1,1.05)" font-size="16.5" text-anchor="end">40%</text>
<text transform="translate(65.3,155.3) scale(1,1.05)" font-size="16.5" text-anchor="end">50%</text>
<text transform="translate(65.3,68.3) scale(1,1.05)" font-size="16.5" text-anchor="end">60%</text>
<text transform="translate(261.9,636.8) scale(1,1.08)" font-size="16.5" text-anchor="middle">ezETH</text>
<text transform="translate(634.2,636.8) scale(1,1.08)" font-size="16.5" text-anchor="middle">rsETH</text>
<text transform="translate(1007,636.8) scale(1,1.08)" font-size="16.5" text-anchor="middle">weETH</text>
<text transform="translate(634.5,657.3) scale(1,1.08)" font-size="17" font-weight="bold" text-anchor="middle">LRT Asset</text>
<text transform="translate(20,329.6) rotate(-90) scale(1,1.09)" font-size="16.85" font-weight="bold" text-anchor="middle">LRT Premium Spread (LPS)</text>
<text transform="translate(634.2,24.1)" font-size="23.2" font-weight="bold" text-anchor="middle">Cross-Chain Dynamics of LRT Premium Spreads</text>
<rect x="1041.0" y="56.5" width="146.3" height="78.8" rx="4" fill="#8c8c8c" fill-opacity="0.9"/>
<rect x="1039.0" y="53.5" width="146.3" height="78.8" rx="4" fill="#fff" stroke="#cccccc" stroke-width="1"/>
<text transform="translate(1111.7,73.7) scale(1,1.05)" font-size="16.7" text-anchor="middle">Chain</text>
<rect x="1046.2" y="86.2" width="33.6" height="11.6" fill="#4f4781" stroke="#3c3c3c" stroke-width="1.3"/>
<rect x="1046.2" y="110.6" width="33.6" height="11.6" fill="#bb6c34" stroke="#3c3c3c" stroke-width="1.3"/>
<text transform="translate(1093.3,98.3) scale(1,1.05)" font-size="16.75">Ethereum</text>
<text transform="translate(1093,122.5) scale(1,1.05)" font-size="16.85">Arbitrum</text>
</svg>
</body></html>
